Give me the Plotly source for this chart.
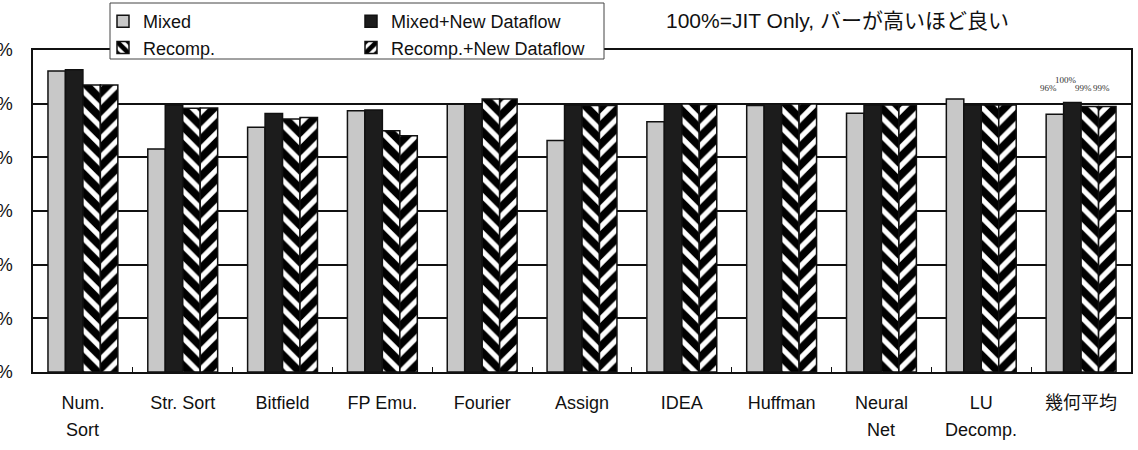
import plotly.graph_objects as go

# ---- data ----
categories = ["Num. Sort", "Str. Sort", "Bitfield", "FP Emu.", "Fourier", "Assign",
              "IDEA", "Huffman", "Neural Net", "LU Decomp.", "幾何平均"]
label_line1 = ["Num.", "Str. Sort", "Bitfield", "FP Emu.", "Fourier", "Assign",
               "IDEA", "Huffman", "Neural", "LU", "幾何平均"]
label_line2 = ["Sort", "", "", "", "", "", "", "", "Net", "Decomp.", ""]

mixed = [112.2, 83.1, 91.2, 97.4, 99.8, 86.3, 93.3, 99.3, 96.4, 101.7, 96.1]
mixed_nd = [112.6, 99.5, 96.3, 97.6, 99.9, 99.5, 99.9, 99.9, 99.5, 99.5, 100.4]
recomp = [107.0, 98.3, 94.3, 89.9, 101.7, 99.3, 99.9, 99.9, 99.5, 99.5, 98.9]
recomp_nd = [107.0, 98.4, 94.8, 88.0, 101.7, 99.3, 99.7, 99.9, 99.5, 99.5, 98.9]

avg_labels = ["96%", "100%", "99%", "99%"]

yticks = [0, 20, 40, 60, 80, 100, 120]
ytick_text = ["0%", "20%", "40%", "60%", "80%", "100%", "120%"]

FONT = "Liberation Sans, Arial, Noto Sans CJK JP, sans-serif"
BLACK = "#111111"

fig = go.Figure()
line = dict(color=BLACK, width=1.5)
fig.add_trace(go.Bar(name="Mixed", x=categories, y=mixed,
                     marker=dict(color="#c8c8c8", line=line), legend="legend"))
fig.add_trace(go.Bar(name="Mixed+New Dataflow", x=categories, y=mixed_nd,
                     marker=dict(color="#1c1c1c", line=line), legend="legend2"))
fig.add_trace(go.Bar(name="Recomp.", x=categories, y=recomp,
                     marker=dict(color="white", line=line,
                                 pattern=dict(shape="\\", fgcolor="#000000", bgcolor="white",
                                              fgopacity=1, size=13, solidity=0.6)),
                     legend="legend"))
fig.add_trace(go.Bar(name="Recomp.+New Dataflow", x=categories, y=recomp_nd,
                     marker=dict(color="white", line=line,
                                 pattern=dict(shape="/", fgcolor="#000000", bgcolor="white",
                                              fgopacity=1, size=13, solidity=0.6)),
                     legend="legend2"))

annotations = []
# second line of category labels
for c, l2 in zip(categories, label_line2):
    if l2:
        annotations.append(dict(x=c, y=0, xref="x", yref="paper", text=l2,
                                showarrow=False, yanchor="middle", yshift=-58,
                                font=dict(family=FONT, size=18, color=BLACK)))

# geometric-mean value labels
n = len(categories) - 1
offsets = [-0.2625, -0.0875, 0.0875, 0.2625]
label_y = [106, 109, 106, 106]
for off, txt, yy in zip(offsets, avg_labels, label_y):
    annotations.append(dict(x=n + off, y=yy, xref="x", yref="y", text=txt,
                            showarrow=False, xshift=-6,
                            font=dict(family="Liberation Serif, serif", size=9, color="#333")))

# header note
annotations.append(dict(x=(837 - 33) / 1098, y=1 + 30 / 322.5, xref="paper", yref="paper",
                        text="100%=JIT Only, バーが高いほど良い", showarrow=False,
                        yanchor="middle", xanchor="center",
                        font=dict(family=FONT, size=21, color=BLACK)))

fig.update_layout(
    width=1138, height=450,
    margin=dict(l=33, r=7, t=50, b=78, autoexpand=False),
    paper_bgcolor="white", plot_bgcolor="white",
    barmode="group", bargap=0.3, bargroupgap=0,
    font=dict(family=FONT, size=18, color=BLACK),
    annotations=annotations,
    legend=dict(xref="container", yref="container", x=103 / 1138, y=1 - 3 / 450,
                xanchor="left", yanchor="top",
                bgcolor="rgba(0,0,0,0)", borderwidth=0,
                font=dict(family=FONT, size=18, color=BLACK)),
    legend2=dict(xref="container", yref="container", x=351 / 1138, y=1 - 3 / 450,
                 xanchor="left", yanchor="top",
                 bgcolor="rgba(0,0,0,0)", borderwidth=0,
                 font=dict(family=FONT, size=18, color=BLACK)),
    shapes=[dict(type="rect", xref="paper", yref="paper",
                 x0=(110 - 33) / 1098, x1=(604 - 33) / 1098,
                 y0=1 - 9 / 322, y1=1 + 47 / 322,
                 line=dict(color="#444", width=1), fillcolor="white", layer="above")],
    showlegend=True,
)
fig.update_xaxes(tickvals=categories, ticktext=label_line1, automargin=False,
                 showline=True, mirror=True, linecolor=BLACK, linewidth=1.5,
                 ticks="inside", tickson="boundaries", ticklen=5, tickcolor=BLACK,
                 ticklabelstandoff=14, showgrid=False,
                 tickfont=dict(family=FONT, size=18, color=BLACK))
fig.update_yaxes(range=[0, 120], tickvals=yticks, ticktext=ytick_text, automargin=False,
                 showline=True, mirror=True, linecolor=BLACK, linewidth=1.5,
                 showgrid=True, gridcolor=BLACK, gridwidth=1.5,
                 ticks="", ticklabelstandoff=15, zeroline=False,
                 tickfont=dict(family=FONT, size=18, color=BLACK))

fig.write_html("out.html")
